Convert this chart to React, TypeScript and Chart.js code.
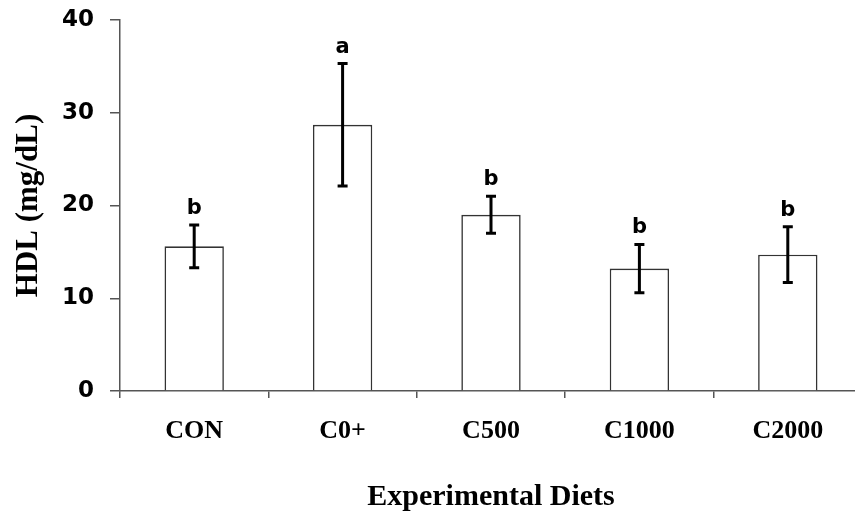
import React, { useEffect, useRef } from "react";
import { Chart, registerables } from "chart.js";

Chart.register(...registerables);

const categories = ["CON", "C0+", "C500", "C1000", "C2000"];
const hdlMeans = [15.6, 28.7, 19.0, 13.2, 14.7];
const hdlErrors = [2.3, 6.6, 2.0, 2.6, 3.0];
const significanceLetters = ["b", "a", "b", "b", "b"];
const yTicks = [0, 10, 20, 30, 40];
const yAxisTitle = "HDL (mg/dL)";
const xAxisTitle = "Experimental Diets";

const errorBarPlugin = {
  id: "errorBars",
  afterDatasetsDraw(chart: any) {
    const { ctx, scales } = chart;
    const x = scales.x;
    const y = scales.y;
    ctx.save();
    ctx.strokeStyle = "#000";
    ctx.lineWidth = 3;
    ctx.fillStyle = "#000";
    ctx.font = "bold 21px 'DejaVu Sans'";
    ctx.textAlign = "center";
    ctx.textBaseline = "alphabetic";
    hdlMeans.forEach((m, i) => {
      const px = x.getPixelForValue(i);
      const top = y.getPixelForValue(m + hdlErrors[i]);
      const bot = y.getPixelForValue(m - hdlErrors[i]);
      const cap = 5;
      ctx.beginPath();
      ctx.moveTo(px, top);
      ctx.lineTo(px, bot);
      ctx.moveTo(px - cap, top);
      ctx.lineTo(px + cap, top);
      ctx.moveTo(px - cap, bot);
      ctx.lineTo(px + cap, bot);
      ctx.stroke();
      ctx.fillText(significanceLetters[i], px, top - 11);
    });
    ctx.restore();
  },
};

export default function App() {
  const canvasRef = useRef<HTMLCanvasElement | null>(null);

  useEffect(() => {
    if (!canvasRef.current) return;
    const chart = new Chart(canvasRef.current, {
      type: "bar",
      data: {
        labels: categories,
        datasets: [
          {
            data: hdlMeans,
            backgroundColor: "#ffffff",
            borderColor: "#333333",
            borderWidth: 1.6,
            barPercentage: 0.4,
            categoryPercentage: 1,
          },
        ],
      },
      options: {
        responsive: false,
        animation: false,
        layout: { padding: { top: 20, left: 0, right: 0, bottom: 0 } },
        plugins: {
          legend: { display: false },
          tooltip: { enabled: false },
        },
        scales: {
          x: {
            type: "category",
            offset: true,
            grid: {
              display: true,
              drawOnChartArea: false,
              drawTicks: true,
              tickLength: 7,
              color: "#555",
              lineWidth: 1.5,
              offset: true,
            },
            border: { display: true, color: "#555", width: 1.5 },
            ticks: {
              color: "#000",
              padding: 18,
              maxRotation: 0,
              autoSkip: false,
              font: { family: "'Liberation Serif'", size: 26, weight: "bold" },
            },
            title: {
              display: true,
              text: xAxisTitle,
              color: "#000",
              font: { family: "'Liberation Serif'", size: 30, weight: "bold" },
              padding: { top: 0, bottom: 3 },
            },
            afterFit: (s: any) => {
              s.height = 127;
              s.paddingLeft = 0;
              s.paddingRight = 0;
            },
          },
          y: {
            min: 0,
            max: 40,
            grid: {
              display: true,
              drawOnChartArea: false,
              drawTicks: true,
              tickLength: 10,
              color: "#555",
              lineWidth: 1.5,
            },
            border: { display: true, color: "#555", width: 1.5 },
            afterBuildTicks: (s: any) => {
              s.ticks = yTicks.map((v) => ({ value: v }));
            },
            ticks: {
              color: "#000",
              padding: 16,
              font: { family: "'DejaVu Sans'", size: 23, weight: "bold" },
            },
            title: {
              display: true,
              text: yAxisTitle,
              color: "#000",
              font: { family: "'Liberation Serif'", size: 31, weight: "bold" },
              padding: { top: 10, bottom: 0 },
            },
            afterFit: (s: any) => {
              s.width = 120;
              s.paddingTop = 0;
              s.paddingBottom = 0;
            },
          },
        },
      },
      plugins: [errorBarPlugin],
    } as any);
    return () => chart.destroy();
  }, []);

  return (
    <div
      style={{
        position: "fixed",
        left: 0,
        top: 0,
        width: 855,
        height: 518,
        overflow: "hidden",
        background: "#fff",
      }}
    >
      <canvas ref={canvasRef} width={862} height={518} style={{ display: "block" }} />
    </div>
  );
}
